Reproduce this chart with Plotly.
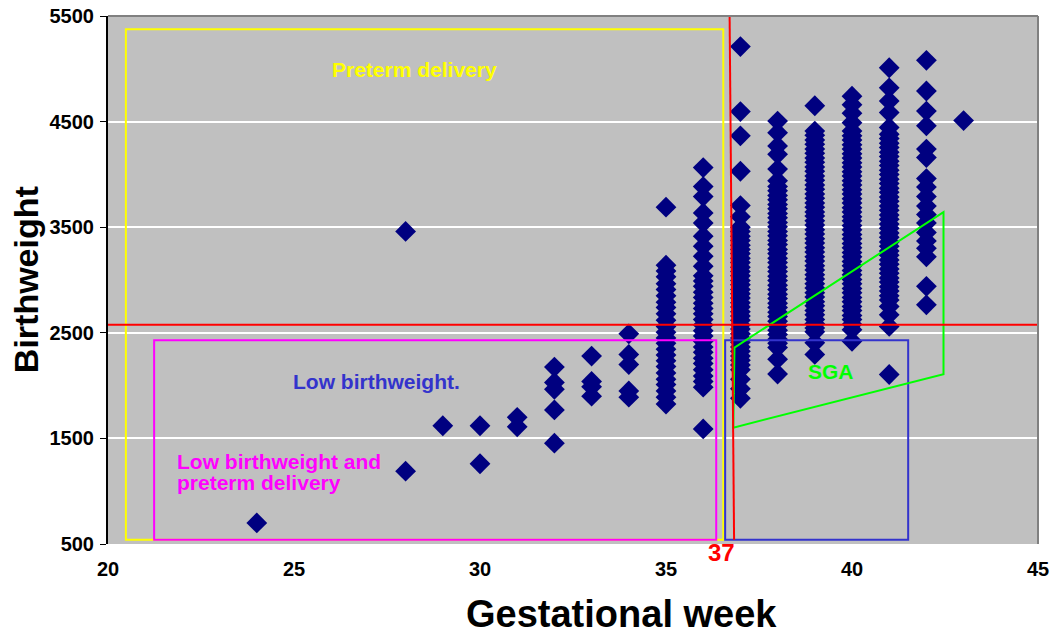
import plotly.graph_objects as go

# ---- data: birthweight (g) by gestational week ----
w24 = [700]
w28 = [3460, 1190]
w29 = [1620]
w30 = [1620, 1260]
w31 = [1700, 1610]
w32 = [2175, 2030, 1965, 1770, 1455]
w33 = [2280, 2040, 1990, 1900]
w34 = [2490, 2295, 2200, 1950, 1890]
w35 = [3690, 3140, 3085, 3030, 2965, 2910, 2850, 2790, 2740, 2680, 2620, 2560, 2505,
       2450, 2400, 2345, 2290, 2235, 2180, 2120, 2060, 2010, 1950, 1890, 1825]
w36 = [4065, 3885, 3790, 3635, 3540, 3415, 3320, 3225, 3130, 3040, 2990, 2940, 2885,
       2835, 2780, 2730, 2680, 2625, 2575, 2520, 2470, 2420, 2365, 2315, 2260, 2210,
       2150, 2090, 2040, 1985, 1590]
w37 = [5210, 4595, 4365, 4030, 3705, 3600, 3500, 3460, 3415, 3375, 3330, 3290, 3250,
       3205, 3165, 3120, 3080, 3040, 2995, 2955, 2910, 2870, 2830, 2785, 2745, 2700,
       2660, 2620, 2575, 2535, 2490, 2450, 2410, 2365, 2325, 2280, 2240, 2195, 2150,
       2060, 1970, 1880]
w38 = [4505, 4395, 4270, 4190, 4050, 3940, 3885, 3845, 3800, 3760, 3715, 3675, 3630,
       3590, 3545, 3505, 3460, 3420, 3375, 3335, 3290, 3250, 3205, 3165, 3120, 3080,
       3035, 2995, 2950, 2910, 2865, 2825, 2780, 2740, 2695, 2655, 2610, 2570, 2525,
       2485, 2440, 2400, 2360, 2250, 2110]
w39 = [4650, 4410, 4370, 4325, 4285, 4240, 4200, 4155, 4115, 4070, 4030, 3985, 3945,
       3900, 3860, 3815, 3775, 3730, 3690, 3645, 3605, 3560, 3520, 3475, 3435, 3390,
       3350, 3305, 3265, 3220, 3180, 3135, 3095, 3050, 3010, 2965, 2925, 2880, 2840,
       2795, 2755, 2710, 2670, 2625, 2585, 2545, 2510, 2405, 2295]
w40 = [4740, 4660, 4580, 4490, 4410, 4365, 4325, 4280, 4240, 4195, 4155, 4110, 4070,
       4025, 3985, 3940, 3900, 3855, 3815, 3770, 3730, 3685, 3645, 3600, 3560, 3515,
       3475, 3430, 3390, 3345, 3305, 3260, 3220, 3175, 3135, 3090, 3050, 3005, 2965,
       2920, 2880, 2835, 2795, 2750, 2710, 2665, 2625, 2580, 2530, 2420]
w41 = [5010, 4820, 4695, 4585, 4445, 4380, 4340, 4295, 4255, 4210, 4170, 4125, 4085,
       4040, 4000, 3955, 3915, 3870, 3830, 3785, 3745, 3700, 3660, 3615, 3575, 3530,
       3490, 3445, 3405, 3360, 3320, 3275, 3235, 3190, 3150, 3105, 3065, 3020, 2980,
       2935, 2895, 2850, 2810, 2750, 2670, 2560, 2105]
w42 = [5080, 4790, 4600, 4460, 4240, 4160, 3960, 3880, 3790, 3700, 3620, 3540, 3450,
       3370, 3300, 3220, 2940, 2765]
w43 = [4510]

weeks = [24, 28, 29, 30, 31, 32, 33, 34, 35, 36, 37, 38, 39, 40, 41, 42, 43]
weights = [w24, w28, w29, w30, w31, w32, w33, w34, w35, w36, w37, w38, w39, w40,
           w41, w42, w43]

x_ticks = [20, 25, 30, 35, 40, 45]
y_ticks = [500, 1500, 2500, 3500, 4500, 5500]

xs, ys = [], []
for wk, vals in zip(weeks, weights):
    xs += [wk] * len(vals)
    ys += vals

FONT = "Liberation Sans, Arial, sans-serif"

fig = go.Figure()
fig.add_trace(go.Scatter(
    x=xs, y=ys, mode="markers",
    marker=dict(symbol="diamond", size=16, color="#000080", line=dict(width=0)),
    hoverinfo="x+y"))

shapes = [
    # preterm delivery (yellow)
    dict(type="rect", x0=20.48, x1=36.54, y0=540, y1=5375,
         line=dict(color="#FFFF00", width=2)),
    # low birthweight & preterm (magenta)
    dict(type="rect", x0=21.24, x1=36.35, y0=540, y1=2430,
         line=dict(color="#FF00FF", width=2)),
    # low birthweight (blue)
    dict(type="rect", x0=36.59, x1=41.51, y0=540, y1=2430,
         line=dict(color="#3333CC", width=2)),
    # SGA (green)
    dict(type="path", path="M 36.84 2360 L 42.46 3643 L 42.46 2108 L 36.81 1602 Z",
         line=dict(color="#00FF00", width=2)),
    # 2500 g cut-off (red)
    dict(type="line", xref="paper", x0=0, x1=1, y0=2577, y1=2577,
         line=dict(color="#FF0000", width=2)),
    # 37 weeks cut-off (red)
    dict(type="line", x0=36.71, x1=36.83, y0=5500, y1=540,
         line=dict(color="#FF0000", width=2)),
    # plot area border (top & right)
    dict(type="line", xref="paper", yref="paper", x0=0, x1=1, y0=1, y1=1,
         line=dict(color="#808080", width=2)),
    dict(type="line", xref="paper", yref="paper", x0=1, x1=1, y0=0, y1=1,
         line=dict(color="#808080", width=2)),
]
for s in shapes:
    s["layer"] = "above"

annotations = [
    dict(text="Preterm delivery", x=28.25, y=4995, showarrow=False,
         font=dict(family=FONT, size=21, color="#FFFF00", weight="bold")),
    dict(text="Low birthweight.", x=27.23, y=2035, showarrow=False,
         font=dict(family=FONT, size=21, color="#3333CC", weight="bold")),
    dict(text="Low birthweight and", x=21.80, y=1286,
         xanchor="left", yanchor="middle", showarrow=False,
         font=dict(family=FONT, size=21, color="#FF00FF", weight="bold")),
    dict(text="preterm delivery", x=21.80, y=1078,
         xanchor="left", yanchor="middle", showarrow=False,
         font=dict(family=FONT, size=21, color="#FF00FF", weight="bold")),
    dict(text="SGA", x=39.44, y=2130, showarrow=False,
         font=dict(family=FONT, size=21, color="#00FF00", weight="bold")),
    dict(text="37", x=36.50, y=-0.016, yref="paper", yanchor="middle", showarrow=False,
         font=dict(family=FONT, size=24, color="#FF0000", weight="bold")),
    dict(text="Gestational week", x=0.552, y=-0.132, xref="paper", yref="paper",
         yanchor="middle", showarrow=False,
         font=dict(family=FONT, size=38, color="black", weight="bold")),
    dict(text="Birthweight", x=-0.088, y=0.50, xref="paper", yref="paper",
         textangle=-90, xanchor="center", yanchor="middle", showarrow=False,
         font=dict(family=FONT, size=34, color="black", weight="bold")),
]

fig.update_layout(
    width=1053, height=634,
    margin=dict(l=108, r=15, t=16, b=90),
    paper_bgcolor="white", plot_bgcolor="#C0C0C0",
    showlegend=False,
    shapes=shapes, annotations=annotations,
    xaxis=dict(range=[20, 45], tickvals=x_ticks, ticks="", showgrid=False,
               zeroline=False, showline=False, ticklabelstandoff=11, automargin=False,
               tickfont=dict(family=FONT, size=20, color="black", weight="bold")),
    yaxis=dict(range=[500, 5500], tickvals=y_ticks, ticks="outside", ticklen=6,
               tickwidth=1, tickcolor="black", showline=True, linecolor="black",
               linewidth=2, showgrid=True, gridcolor="white", gridwidth=2,
               zeroline=False, ticklabelstandoff=2, automargin=False,
               tickfont=dict(family=FONT, size=20, color="black", weight="bold")),
)

fig.write_html("out.html")
